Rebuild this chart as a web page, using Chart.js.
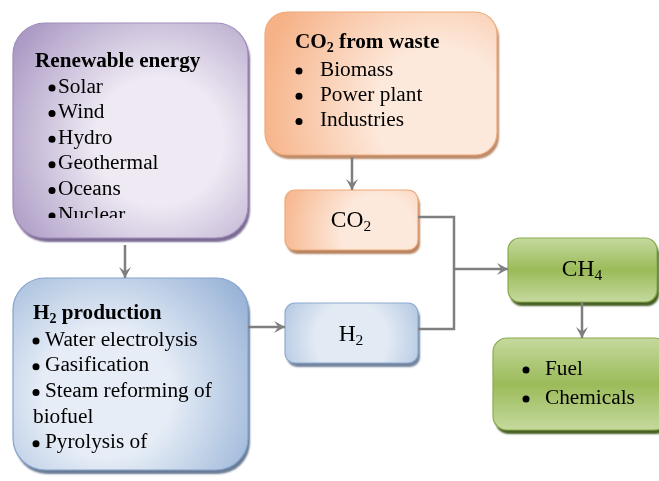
<!DOCTYPE html>
<html><head><meta charset="utf-8">
<script src="https://cdn.jsdelivr.net/npm/chart.js@4/dist/chart.umd.min.js"></script>
<style>html,body{margin:0;padding:0;background:#fff}canvas{display:block}
.pre{position:absolute;left:-9999px;top:0;font-family:"Liberation Serif";}</style>
</head><body>
<span class="pre">Renewable <b>energy</b></span>
<canvas id="c" width="659" height="481"></canvas>
<script>
// ---- flowchart content (data) ----
const nodeIds    = ['renew', 'waste', 'co2', 'h2', 'h2prod', 'ch4', 'fuel'];
const nodeTitles = ['Renewable energy', 'CO_2 from waste', 'CO_2', 'H_2', 'H_2 production', 'CH_4', ''];
const renewItems = ['Solar', 'Wind', 'Hydro', 'Geothermal', 'Oceans', 'Nuclear'];
const wasteItems = ['Biomass', 'Power plant', 'Industries'];
const h2Items    = ['•Water electrolysis', '•Gasification', '•Steam reforming of', 'biofuel', '•Pyrolysis of'];
const fuelItems  = ['Fuel', 'Chemicals'];
// node boxes in diagram units [left, top, width, height]
const nodeBoxes  = [[13,23,235,215],[265,12,232,143],[285,190,133,60],[285,303,133,60],[13,278,235,192],[508,238,149,64],[493,338,175,92]];
// connectors in diagram units
const connectors = [
  {pts:[[125,245],[125,278]], arrow:true},
  {pts:[[352,157],[352,190]], arrow:true},
  {pts:[[248,327],[285,327]], arrow:true},
  {pts:[[418,217],[454,217],[454,329],[418,329]], arrow:false},
  {pts:[[454,269],[508,269]], arrow:true},
  {pts:[[582,302],[582,338]], arrow:true}
];

// ---- styles ----
const styles = {
  renew: {r:32, kind:'radial', c0:'#eee9f3', c1:'#a391bf', border:'#9f8dbb', shadow:'rgba(90,70,120,0.8)', cx:0.62, cy:0.55, clip:20},
  waste: {r:22, kind:'radial', c0:'#fde9dc', c1:'#f6b287', border:'#f0a878', shadow:'rgba(170,110,70,0.8)', cx:0.75, cy:0.7, clip:17},
  co2:   {r:10, kind:'radial', c0:'#fde9dc', c1:'#f6b287', border:'#f0a878', shadow:'rgba(170,110,70,0.85)', cx:0.7, cy:0.7, clip:0},
  h2:    {r:10, kind:'radial', c0:'#e2eaf4', c1:'#91aed5', border:'#8eaad0', shadow:'rgba(90,110,140,0.85)', cx:0.5, cy:0.6, clip:0},
  h2prod:{r:32, kind:'radial', c0:'#e6edf6', c1:'#8dabd3', border:'#86a4cc', shadow:'rgba(80,100,130,0.85)', cx:0.4, cy:0.6, clip:17},
  ch4:   {r:12, kind:'linear', c0:'#c5d99e', c1:'#9bbb59', border:'#8aab4c', shadow:'rgba(70,95,35,1)', clip:0},
  fuel:  {r:14, kind:'linear', c0:'#c5d99e', c1:'#9bbb59', border:'#8aab4c', shadow:'rgba(70,95,35,1)', clip:0}
};
const layout = {
  renew: {titleX:35, titleY:62, bulletX:52, itemX:58, itemY:87, step:25.6, center:false},
  waste: {titleX:295, titleY:43, bulletX:299, itemX:320, itemY:70, step:25.3, center:false},
  co2:   {center:true, cx:351, cy:221},
  h2:    {center:true, cx:351, cy:335},
  h2prod:{titleX:33, titleY:314, bulletX:36, itemX:45, itemY:340, step:25.7, center:false, noBulletX:33},
  ch4:   {center:true, cx:582, cy:270},
  fuel:  {bulletX:526, itemX:545, itemY:369, step:29, center:false}
};
const itemsById = {renew:renewItems, waste:wasteItems, h2prod:h2Items, fuel:fuelItems};

const FONT = '"Liberation Serif", serif';
const TITLE_SIZE = 21.2, ITEM_SIZE = 21.3, CENTER_SIZE = 23.5;

function rr(ctx,x,y,w,h,r){
  ctx.beginPath();
  ctx.moveTo(x+r,y);
  ctx.arcTo(x+w,y,x+w,y+h,r);
  ctx.arcTo(x+w,y+h,x,y+h,r);
  ctx.arcTo(x,y+h,x,y,r);
  ctx.arcTo(x,y,x+w,y,r);
  ctx.closePath();
}
// text with "_n" subscripts
function drawRich(ctx, str, x, y, size, bold, align){
  const parts = [];
  let i=0, buf='';
  while(i<str.length){
    if(str[i]==='_' && i+1<str.length){ if(buf)parts.push([buf,false]); buf=''; parts.push([str[i+1],true]); i+=2; }
    else { buf+=str[i]; i++; }
  }
  if(buf) parts.push([buf,false]);
  const fMain = (bold?'bold ':'')+size+'px '+FONT;
  const fSub = (bold?'bold ':'')+(size*0.66).toFixed(1)+'px '+FONT;
  let total=0;
  parts.forEach(p=>{ctx.font=p[1]?fSub:fMain; total+=ctx.measureText(p[0]).width;});
  let cx = align==='center' ? x-total/2 : x;
  ctx.textBaseline='middle'; ctx.textAlign='left';
  parts.forEach(p=>{
    ctx.font=p[1]?fSub:fMain;
    ctx.fillText(p[0], cx, p[1]? y+size*0.26 : y);
    cx += ctx.measureText(p[0]).width;
  });
}

const flowPlugin = {
  id:'flow',
  beforeDatasetsDraw(chart){
    const ctx=chart.ctx, sx=chart.scales.x, sy=chart.scales.y;
    nodeIds.forEach((id,k)=>{
      const b=nodeBoxes[k], st=styles[id], L=layout[id];
      const x=sx.getPixelForValue(b[0]), y=sy.getPixelForValue(b[1]);
      const w=sx.getPixelForValue(b[0]+b[2])-x, h=sy.getPixelForValue(b[1]+b[3])-y;
      let g;
      if(st.kind==='radial'){
        g=ctx.createRadialGradient(x+w*st.cx,y+h*st.cy,0,x+w*st.cx,y+h*st.cy,Math.max(w,h)*0.78);
        g.addColorStop(0,st.c0); g.addColorStop(0.35,st.c0); g.addColorStop(1,st.c1);
      } else {
        g=ctx.createLinearGradient(0,y,0,y+h);
        g.addColorStop(0,st.c0); g.addColorStop(0.5,st.c1); g.addColorStop(1,st.c0);
      }
      ctx.save();
      ctx.shadowColor=st.shadow; ctx.shadowOffsetX=2; ctx.shadowOffsetY=4; ctx.shadowBlur=2;
      rr(ctx,x,y,w,h,st.r); ctx.fillStyle=g; ctx.fill();
      ctx.restore();
      ctx.save();
      rr(ctx,x,y,w,h,st.r); ctx.lineWidth=1.2; ctx.strokeStyle=st.border; ctx.stroke();
      ctx.restore();
      // text
      ctx.save();
      ctx.beginPath(); ctx.rect(x, y, w, h-st.clip); ctx.clip();
      ctx.fillStyle='#000';
      if(L.center){
        drawRich(ctx, nodeTitles[k], sx.getPixelForValue(L.cx), sy.getPixelForValue(L.cy), CENTER_SIZE, false, 'center');
      } else {
        if(nodeTitles[k]) drawRich(ctx, nodeTitles[k], sx.getPixelForValue(L.titleX), sy.getPixelForValue(L.titleY), TITLE_SIZE, true, 'left');
        const items=itemsById[id]||[];
        items.forEach((t,j)=>{
          const yy=sy.getPixelForValue(L.itemY+j*L.step);
          if(id==='h2prod'){
            if(t[0]==='•'){
              ctx.beginPath(); ctx.arc(sx.getPixelForValue(L.bulletX), yy+1, 3.5, 0, Math.PI*2); ctx.fill();
              drawRich(ctx, t.slice(1), sx.getPixelForValue(L.itemX), yy, ITEM_SIZE, false, 'left');
            } else drawRich(ctx, t, sx.getPixelForValue(L.noBulletX), yy, ITEM_SIZE, false, 'left');
          } else {
            ctx.beginPath(); ctx.arc(sx.getPixelForValue(L.bulletX), yy+1, 3.5, 0, Math.PI*2); ctx.fill();
            drawRich(ctx, t, sx.getPixelForValue(L.itemX), yy, ITEM_SIZE, false, 'left');
          }
        });
      }
      ctx.restore();
    });
  },
  afterDatasetsDraw(chart){
    const ctx=chart.ctx, sx=chart.scales.x, sy=chart.scales.y;
    connectors.forEach(c=>{
      if(!c.arrow) return;
      const n=c.pts.length, a=c.pts[n-2], b=c.pts[n-1];
      const x1=sx.getPixelForValue(a[0]), y1=sy.getPixelForValue(a[1]);
      const x2=sx.getPixelForValue(b[0]), y2=sy.getPixelForValue(b[1]);
      const ang=Math.atan2(y2-y1,x2-x1), len=11, hw=6;
      ctx.save();
      ctx.fillStyle='#7f7f7f';
      ctx.beginPath();
      ctx.moveTo(x2,y2);
      ctx.lineTo(x2-len*Math.cos(ang)+hw*Math.sin(ang), y2-len*Math.sin(ang)-hw*Math.cos(ang));
      ctx.lineTo(x2-len*0.6*Math.cos(ang), y2-len*0.6*Math.sin(ang));
      ctx.lineTo(x2-len*Math.cos(ang)-hw*Math.sin(ang), y2-len*Math.sin(ang)+hw*Math.cos(ang));
      ctx.closePath(); ctx.fill();
      ctx.restore();
    });
  }
};

const datasets = connectors.map(c=>({
  data: c.pts.map(p=>({x:p[0], y:p[1]})),
  showLine:true, borderColor:'#7f7f7f', borderWidth:2.5, pointRadius:0, fill:false, tension:0
}));

function build(){
  new Chart(document.getElementById('c'), {
    type:'scatter',
    data:{datasets},
    options:{
      responsive:false, animation:false, devicePixelRatio:1,
      layout:{padding:0},
      plugins:{legend:{display:false}, tooltip:{enabled:false}},
      scales:{
        x:{type:'linear', min:0, max:659, display:false},
        y:{type:'linear', min:0, max:481, reverse:true, display:false}
      }
    },
    plugins:[flowPlugin]
  });
}
Promise.all([
  document.fonts.load('20px "Liberation Serif"'),
  document.fonts.load('bold 20px "Liberation Serif"')
]).then(build, build);
</script>
</body></html>
